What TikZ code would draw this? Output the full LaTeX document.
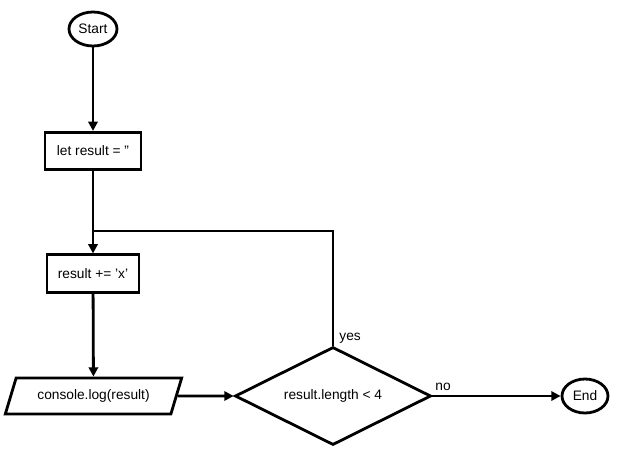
\documentclass[tikz,border=0pt]{standalone}
\usepackage{fontspec}
\setmainfont{Liberation Sans}
\usetikzlibrary{shapes.geometric,arrows.meta}

\begin{document}
\begin{tikzpicture}[x=0.75pt,y=-0.75pt,line width=2.1pt,
  font=\fontsize{10.3}{12}\selectfont,
  term/.style={ellipse,draw,inner sep=0pt,minimum width=36pt,minimum height=25.5pt},
  block/.style={rectangle,draw,inner sep=0pt,minimum width=72pt,minimum height=28pt},
  io/.style={trapezium,draw,trapezium left angle=58.6,trapezium right angle=121.4,
    trapezium stretches=true,inner sep=0pt,minimum width=132.75pt,minimum height=27pt},
  test/.style={diamond,draw,aspect=2,inner sep=0pt,minimum width=147pt,minimum height=73.5pt},
  flow/.style={-{Triangle[length=7pt,width=7pt]}},
  lbl/.style={anchor=west,inner sep=0pt}]
\def\xMain{93}
\def\yLoop{231}
\def\yRow{396}
\useasboundingbox (0,0) rectangle (619,451);
\path
(\xMain,29) node [term] (start) {Start}
(\xMain,151) node [block] (init) {let result = ''}
(\xMain,273.5) node [block,minimum width=69pt] (append) {result += 'x'}
(93.5,\yRow) node [io] (print) {console.log(result)}
(333,\yRow) node [test] (cond) {result.length < 4}
(585,\yRow) node [term,minimum width=34.5pt] (end) {End}
(338,338) node [lbl] (yes) {yes}
(434,387) node [lbl] (no) {no}
;
\coordinate (merge) at (\xMain,\yLoop);

\draw[flow] (start) -- (init);
\draw[flow] (init) -- (append);
\draw[flow] (append) -- (print);
\draw[flow] (print) -- (cond);
\draw[flow] (cond) -- (end);
\draw (cond.north) |- (merge);
\end{tikzpicture}
\end{document}
